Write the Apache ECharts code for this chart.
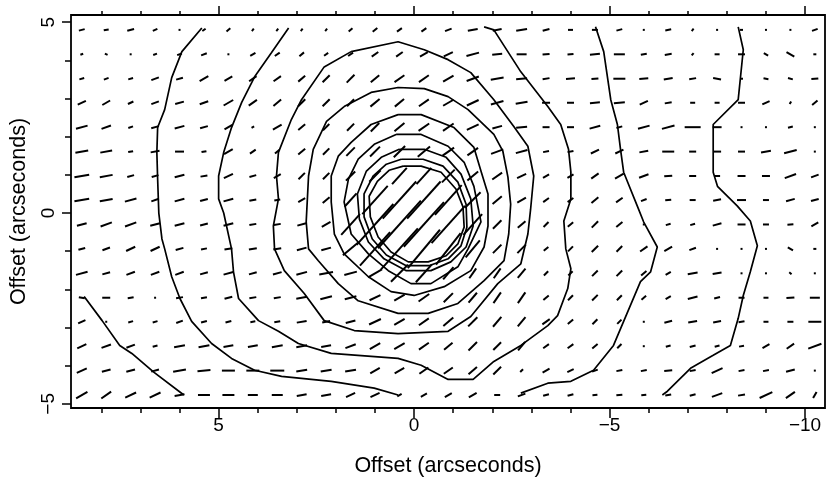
<!DOCTYPE html>
<html>
<head>
<meta charset="utf-8">
<script src="https://cdn.jsdelivr.net/npm/echarts@6/dist/echarts.min.js"></script>
<style>html,body{margin:0;padding:0;background:#fff;}#chart{width:826px;height:482px;}</style>
</head>
<body>
<div id="chart"></div>
<script>
// Grid of polarization vector positions (arcsec)
const vecX = [8.5, 7.875, 7.25, 6.625, 6.0, 5.375, 4.75, 4.125, 3.5, 2.875, 2.25, 1.625, 1.0, 0.375, -0.25, -0.875, -1.5, -2.125, -2.75, -3.375, -4.0, -4.625, -5.25, -5.875, -6.5, -7.125, -7.75, -8.375, -9.0, -9.625, -10.25];
const vecY = [4.80, 4.16, 3.52, 2.89, 2.25, 1.61, 0.97, 0.34, -0.30, -0.94, -1.58, -2.22, -2.85, -3.49, -4.13, -4.77];
// vector lengths (polarization) per row, top to bottom
const vecLen = [
 [6,5,7,5,2,4,5,3,3, 3,3,5,6,6,6,7,10,9,11, 7,5,6,6,2,6,3,2,3,2,2,6],
 [3,3,2,4,5,6,2,6,6, 6,5,6,8,8,9,10,13,10,10, 7,6,10,11,6,7,3,5,7,5,9,3],
 [5,5,5,8,7,10,9,9,9, 9,10,11,11,12,12,12,13,13,11, 7,9,7,12,9,9,7,8,3,5,5,7],
 [9,9,6,8,9,9,11,10,10, 10,10,10,12,12,12,12,13,13,12, 8,7,10,11,9,7,5,5,7,8,3,7],
 [12,10,5,8,10,8,9,3,10, 9,9,10,12,13,13,13,13,10,11, 7,7,11,6,12,13,16,9,2,2,5,2],
 [13,12,5,9,9,5,10,7,6, 9,9,12,14,16,16,14,13,13,12, 6,6,9,9,9,12,7,8,7,10,13,2],
 [15,13,7,7,10,7,10,7,8, 9,9,13,16,22,22,18,14,12,10, 7,7,9,10,10,8,7,6,8,8,12,8],
 [15,13,12,8,10,8,10,7,6, 8,9,18,38,50,50,40,22,12,10, 7,7,9,8,6,6,6,8,9,6,9,8],
 [10,12,12,10,10,8,10,7,7, 9,10,28,55,64,60,50,28,12,10, 7,7,9,8,2,5,5,9,8,6,6,8],
 [7,8,10,10,8,6,8,8,8, 10,10,20,45,55,50,40,22,12,12, 6,7,9,8,9,9,7,2,2,2,6,3],
 [12,8,9,9,9,8,10,8,9, 11,14,13,16,24,24,16,12,12,12, 6,6,8,8,7,6,10,9,2,2,3,2],
 [6,8,6,2,7,6,8,7,7, 11,12,12,12,12,13,13,13,13,13, 7,7,8,7,6,6,10,6,6,5,8,10],
 [8,2,5,5,7,6,6,5,6, 10,8,10,13,12,12,13,13,13,12, 9,7,7,6,2,8,9,8,6,5,6,13],
 [10,10,9,5,11,11,10,10,11, 11,10,11,12,12,12,11,12,11,11, 7,7,7,6,2,5,6,5,5,8,9,14],
 [11,9,9,8,13,13,13,13,14, 11,11,11,11,11,11,11,11,11,4, 8,7,6,6,6,8,6,12,6,6,9,2],
 [13,12,12,12,10,12,12,10,11, 10,10,10,10,5,7,8,9,6,8, 6,6,5,6,5,6,6,11,7,14,11,7]
];
// vector position angles (degrees, counter-clockwise from horizontal as drawn)
const vecAng = [
 [15,10,15,25,0,35,40,50,50, 50,50,40,40,35,35,20,10,10,10, 15,0,0,15,0,10,50,0,0,0,0,20],
 [20,-25,0,20,20,20,0,30,35, 40,35,35,35,35,30,25,15,5,0, 5,5,5,0,10,10,50,0,0,-30,-30,0],
 [15,20,15,20,15,30,30,35,35, 40,45,45,40,35,35,30,20,10,5, 10,5,5,0,5,10,10,-10,0,-10,-15,5],
 [25,30,25,20,15,20,30,35,40, 45,45,45,40,40,35,30,25,15,10, 0,0,5,5,25,10,0,0,0,25,60,40],
 [15,20,20,15,15,15,30,30,30, 40,45,45,45,40,35,35,25,15,5, 0,0,15,15,15,15,0,0,0,0,15,0],
 [10,10,10,10,0,10,30,35,40, 40,45,45,45,45,40,35,35,20,15, 10,10,25,25,10,0,0,0,0,10,15,0],
 [10,10,15,15,15,10,25,15,30, 45,45,45,45,48,48,45,40,35,25, 30,30,35,30,20,5,0,0,0,0,20,20],
 [10,10,15,20,15,15,15,10,10, 30,40,48,48,48,48,48,45,40,30, 35,35,40,35,20,5,0,10,0,0,15,15],
 [15,20,20,15,15,15,15,10,10, 15,30,48,48,48,48,48,48,45,40, 45,40,45,40,0,15,15,15,0,0,5,30],
 [15,20,25,25,15,10,10,10,10, 15,15,40,48,48,50,52,50,45,45, 40,45,45,45,35,30,20,0,0,0,-30,0],
 [15,15,20,20,20,15,15,15,15, 15,10,15,30,45,48,50,55,55,50, 45,45,45,45,40,30,10,10,0,0,-40,0],
 [-10,0,10,0,10,10,15,10,10, 10,15,15,25,30,35,45,50,55,55, 40,45,45,45,40,30,15,15,0,0,5,0],
 [25,0,15,15,20,15,15,10,10, 10,10,15,25,30,35,40,45,50,50, 35,40,45,45,0,15,10,10,10,0,0,0],
 [25,20,20,15,10,10,10,10,10, 10,10,20,30,30,35,40,45,45,50, 35,35,40,45,0,15,15,15,10,30,35,20],
 [25,15,15,15,10,5,0,0,0, 10,10,10,30,30,35,35,40,45,45, 30,25,20,10,10,5,10,25,10,10,15,0],
 [30,35,25,25,10,0,0,0,0, 10,10,25,25,30,30,30,30,0,20, 15,15,5,5,5,10,15,20,10,25,35,60]
];
// Contours (arcsec offsets)
const contourLowerLeft = [[8.44,-2.19],[7.98,-2.82],[7.53,-3.47],[7.22,-3.68],[6.66,-4.17],[5.89,-4.77]];
const contourOuterLeft = [[5.43,4.85],[5.94,4.23],[6.20,3.55],[6.38,2.71],[6.56,2.24],[6.58,1.59],[6.56,0.89],[6.53,0],[6.45,-0.68],[6.38,-0.94],[6.20,-1.67],[5.99,-2.24],[5.69,-2.84],[5.18,-3.42],[4.67,-3.81],[4.08,-4.12],[3.39,-4.28],[2.12,-4.41],[1.02,-4.59],[0.41,-4.77]];
const contourOuterRight = [[-2.73,-4.72],[-3.42,-4.46],[-4.01,-4.41],[-4.59,-4.12],[-5.10,-3.47],[-5.79,-1.80],[-6.05,-1.54],[-6.22,-0.89],[-5.87,-0.23],[-5.71,0.18],[-5.36,1.07],[-5.28,1.67],[-5.20,2.32],[-5.03,2.97],[-4.85,4.23],[-4.64,4.88]];
const contourMid = [[3.21,4.85],[3.65,4.20],[4.08,3.57],[4.41,2.90],[4.67,2.24],[4.87,1.59],[5.00,0.97],[5.00,0.37],[4.87,0],[4.67,-0.94],[4.62,-1.54],[4.49,-2.24],[3.98,-2.82],[3.47,-3.10],[2.96,-3.42],[2.12,-3.68],[0.41,-3.81],[-0.18,-3.99],[-0.87,-4.36],[-1.51,-4.36],[-2.04,-3.89],[-2.73,-3.47],[-3.42,-2.95],[-3.67,-2.69],[-3.93,-1.98],[-4.01,-1.46],[-3.88,-0.94],[-3.83,-0.21],[-4.01,0.37],[-4.01,1.07],[-3.95,1.67],[-3.75,2.32],[-3.42,2.79],[-2.73,3.70],[-2.04,4.80],[-1.79,4.88]];
const contourFarRight = [[-8.29,4.88],[-8.42,4.28],[-8.29,2.97],[-7.65,2.32],[-7.65,1.07],[-7.76,0.70],[-8.27,0.18],[-8.60,-0.21],[-8.78,-0.86],[-8.60,-1.54],[-8.42,-2.16],[-8.29,-2.76],[-8.09,-3.47],[-7.65,-3.73],[-7.07,-4.07],[-6.48,-4.67],[-6.35,-4.77]];
const ring1 = [[1.61,4.23],[0.41,4.49],[-0.26,4.28],[-0.87,4.02],[-1.45,3.68],[-2.04,2.97],[-2.55,2.27],[-2.91,1.75],[-3.06,0.97],[-2.98,0.10],[-2.91,-0.55],[-2.73,-1.33],[-2.14,-1.85],[-1.45,-2.71],[-0.87,-3.10],[0.41,-3.16],[1.53,-3.08],[2.30,-2.82],[2.81,-2.11],[3.32,-1.51],[3.57,-0.94],[3.60,-0.34],[3.47,0.37],[3.52,0.97],[3.47,1.59],[3.14,2.45],[2.88,2.97],[2.30,3.83],[1.61,4.23]];
const ring2 = [[1.79,2.79],[2.24,2.40],[2.58,1.67],[2.70,0.97],[2.73,0.37],[2.76,-0.23],[2.70,-0.94],[2.45,-1.25],[1.94,-1.85],[1.43,-2.30],[0.41,-2.63],[-0.36,-2.63],[-1.12,-2.37],[-1.79,-1.77],[-2.30,-1.25],[-2.42,-0.55],[-2.47,0.23],[-2.40,0.94],[-2.27,1.62],[-2.04,2.06],[-1.38,2.71],[-0.87,3.05],[-0.26,3.26],[0.41,3.29],[1.10,3.16],[1.79,2.79]];
const ring3 = [[0.41,2.58],[-0.18,2.58],[-1.02,2.24],[-1.53,1.72],[-1.71,1.10],[-1.89,0.50],[-1.89,-0.34],[-1.79,-0.89],[-1.45,-1.51],[-0.77,-1.93],[0,-2.16],[0.59,-2.06],[1.17,-1.67],[1.79,-1.07],[2.04,-0.55],[2.12,0.29],[2.12,0.97],[1.94,1.49],[1.61,1.85],[1.10,2.32],[0.41,2.58]];
const ring4 = [[0.46,2.06],[-0.18,2.06],[-0.87,1.75],[-1.28,1.33],[-1.53,0.70],[-1.71,-0.23],[-1.38,-0.94],[-1.12,-1.41],[-0.43,-1.85],[0.08,-1.85],[0.66,-1.51],[1.17,-1.07],[1.61,-0.55],[1.79,0.29],[1.68,0.89],[1.43,1.41],[1.02,1.80],[0.46,2.06]];
const ring5 = [[0.38,1.67],[-0.26,1.67],[-0.82,1.46],[-1.20,1.02],[-1.45,0.37],[-1.51,-0.34],[-1.33,-0.89],[-0.94,-1.28],[-0.43,-1.51],[0.20,-1.51],[0.77,-1.20],[1.17,-0.76],[1.40,-0.16],[1.45,0.50],[1.22,1.10],[0.84,1.46],[0.38,1.67]];
const ring6 = [[0.33,1.41],[-0.23,1.41],[-0.74,1.23],[-1.12,0.81],[-1.33,0.23],[-1.35,-0.37],[-1.20,-0.86],[-0.87,-1.20],[-0.38,-1.38],[0.20,-1.38],[0.71,-1.10],[1.07,-0.68],[1.28,-0.10],[1.28,0.50],[1.05,0.97],[0.71,1.28],[0.33,1.41]];
const ring7 = [[0.28,1.23],[-0.18,1.23],[-0.69,1.07],[-1.07,0.63],[-1.25,0.16],[-1.28,-0.37],[-1.12,-0.81],[-0.82,-1.12],[-0.36,-1.28],[0.15,-1.28],[0.59,-1.02],[0.92,-0.63],[1.12,-0.10],[1.15,0.44],[0.94,0.83],[0.64,1.12],[0.28,1.23]];
// Axis ticks
const xMajorTicks = [5, 0, -5, -10];
const xMinorTicks = [8, 7, 6, 4, 3, 2, 1, -1, -2, -3, -4, -6, -7, -8, -9];
const yMajorTicks = [-5, 0, 5];
const yMinorTicks = [-4, -3, -2, -1, 1, 2, 3, 4];
const axisTitle = 'Offset (arcseconds)';

const X_MIN = -10.51, X_MAX = 8.776, Y_MIN = -5.11, Y_MAX = 5.19;
const FONT = 'Liberation Sans, Arial, sans-serif';
const fmt = v => (v < 0 ? '\u2212' + Math.abs(v) : String(v));

const vecData = [];
vecY.forEach((y, j) => vecX.forEach((x, i) => vecData.push([x, y, vecLen[j][i], vecAng[j][i]])));

function xAx(pos, ticks, len, label, name) {
  return {
    type: 'value', position: pos, inverse: true, min: X_MIN, max: X_MAX,
    axisLine: { show: false, onZero: false }, splitLine: { show: false },
    axisTick: { show: true, inside: false, length: len, customValues: ticks, lineStyle: { color: '#000', width: 1.5 } },
    axisLabel: label ? { show: true, customValues: ticks, formatter: fmt, color: '#000', fontSize: 19, fontFamily: FONT, margin: 8 } : { show: false },
    name: name || '', nameLocation: 'middle', nameGap: 47,
    nameTextStyle: { color: '#000', fontSize: 21.5, fontFamily: FONT }
  };
}
function yAx(ticks, len, label, name) {
  return {
    type: 'value', position: 'left', min: Y_MIN, max: Y_MAX,
    axisLine: { show: false, onZero: false }, splitLine: { show: false },
    axisTick: { show: true, inside: false, length: len, customValues: ticks, lineStyle: { color: '#000', width: 1.5 } },
    axisLabel: label ? { show: true, customValues: ticks, formatter: fmt, rotate: 90, color: '#000', fontSize: 19, fontFamily: FONT, margin: 13 } : { show: false },
    name: name || '', nameLocation: 'middle', nameGap: 41,
    nameTextStyle: { color: '#000', fontSize: 21.5, fontFamily: FONT }
  };
}

const contourStyle = { color: '#000', width: 1.7 };
const contours = [contourLowerLeft, contourOuterLeft, contourOuterRight, contourMid, contourFarRight, ring1, ring2, ring3, ring4, ring5, ring6, ring7];

const chart = echarts.init(document.getElementById('chart'), null, { renderer: 'canvas' });
chart.setOption({
  animation: false,
  backgroundColor: '#fff',
  grid: { left: 69, right: 1, top: 15, bottom: 72, show: true, borderColor: '#000', borderWidth: 1.8, backgroundColor: 'transparent' },
  xAxis: [
    xAx('bottom', xMajorTicks, 10, true, axisTitle),
    xAx('bottom', xMinorTicks, 5, false),
    xAx('top', xMajorTicks, 9, false),
    xAx('top', xMinorTicks, 4, false)
  ],
  yAxis: [
    yAx(yMajorTicks, 9, true, axisTitle),
    yAx(yMinorTicks, 6, false)
  ],
  series: [
    {
      type: 'custom', xAxisIndex: 0, yAxisIndex: 0, data: vecData, clip: true,
      renderItem: function (params, api) {
        const p = api.coord([api.value(0), api.value(1)]);
        const half = api.value(2) / 2;
        const a = api.value(3) * Math.PI / 180;
        const dx = half * Math.cos(a), dy = half * Math.sin(a);
        return { type: 'line', shape: { x1: p[0] - dx, y1: p[1] + dy, x2: p[0] + dx, y2: p[1] - dy },
          style: { stroke: '#000', lineWidth: 2 } };
      }
    }
  ].concat(contours.map(c => ({
    type: 'line', xAxisIndex: 0, yAxisIndex: 0, data: c, showSymbol: false, symbol: 'none',
    lineStyle: contourStyle, silent: true
  })))
});
</script>
</body>
</html>
